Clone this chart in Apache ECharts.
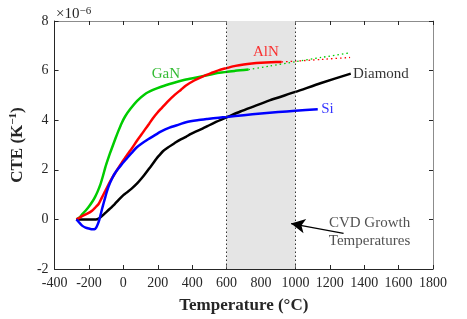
<!DOCTYPE html>
<html>
<head>
<meta charset="utf-8">
<script src="https://cdn.jsdelivr.net/npm/echarts@6/dist/echarts.min.js"></script>
<style>html,body{margin:0;padding:0;background:#fff}#c{width:467px;height:319px}</style>
</head>
<body>
<div id="c"></div>
<script>
// Temperatures (°C) and CTE values (×10^-6 K^-1)
const ganT   = [-273,-255,-240,-220,-200,-180,-165,-150,-135,-120,-105,-90,-75,-60,-45,-30,-10,10,40,80,125,172,220,290,364,460,556,650,728];
const ganC   = [0,0.08,0.2,0.35,0.52,0.72,0.9,1.12,1.38,1.72,2.1,2.42,2.72,3.0,3.28,3.55,3.88,4.15,4.45,4.78,5.05,5.22,5.35,5.5,5.64,5.77,5.91,5.99,6.04];
const ganExtT = [728,850,1000,1150,1318];
const ganExtC = [6.04,6.18,6.36,6.53,6.72];

const alnT   = [-273,-255,-240,-210,-182,-160,-144,-125,-105,-85,-67,-45,-29,-10,10,30,48,80,105,125,150,172,200,220,259,300,335,364,412,460,510,556,600,651,700,747,800,860,920];
const alnC   = [0,0.06,0.13,0.23,0.35,0.5,0.62,0.88,1.15,1.42,1.65,1.9,2.08,2.28,2.48,2.68,2.85,3.18,3.42,3.62,3.86,4.08,4.32,4.47,4.76,5.03,5.23,5.4,5.6,5.76,5.9,6.02,6.1,6.19,6.25,6.29,6.32,6.34,6.35];
const alnExtT = [920,1000,1150,1318];
const alnExtC = [6.35,6.38,6.45,6.53];

const siT    = [-273,-260,-240,-220,-200,-180,-168,-158,-148,-140,-132,-124,-115,-105,-96,-85,-67,-50,-29,-10,19,48,77,105,144,172,220,268,326,364,430,489,556,600,700,800,900,1000,1130];
const siC    = [0,-0.1,-0.25,-0.33,-0.37,-0.4,-0.4,-0.33,-0.18,-0.02,0.2,0.42,0.65,0.9,1.12,1.35,1.63,1.85,2.05,2.22,2.45,2.68,2.9,3.05,3.23,3.35,3.55,3.7,3.83,3.92,4.0,4.05,4.1,4.13,4.2,4.27,4.33,4.38,4.44];

const diaT   = [-273,-250,-220,-190,-160,-144,-130,-105,-80,-50,-29,0,19,48,80,105,125,150,172,192,211,230,259,297,326,364,393,460,489,530,603,680,747,850,1000,1150,1322];
const diaC   = [0,0,0,0,0,0.03,0.1,0.26,0.42,0.62,0.78,0.98,1.08,1.24,1.45,1.65,1.82,2.05,2.25,2.45,2.6,2.75,2.9,3.07,3.2,3.33,3.45,3.66,3.76,3.9,4.12,4.35,4.53,4.8,5.14,5.5,5.88];

const cvdRange = [600, 1000];
const xTicks = {min:-400, max:1800, step:200};
const yTicks = {min:-2, max:8, step:2};

const pairs = (t, c) => t.map((v, i) => [v, c[i]]);
const FONT = '"Liberation Serif", "DejaVu Serif", serif';
const DARK = '#262626';

const chart = echarts.init(document.getElementById('c'), null, {renderer:'canvas'});

function lineSeries(name, data, color, dotted) {
  return {
    name, type:'line', data, showSymbol:false, symbol:'none', smooth:0.25, z:3,
    lineStyle: dotted ? {color, width:1.3, type:[1.5,3]} : {color, width:2.5},
    silent:true, animation:false
  };
}

const plain = v => String(v);

const option = {
  animation:false,
  title: {
    text: '×10{sup|−6}', left: 51, top: 1,
    textStyle: {fontFamily:FONT, fontSize:15, fontWeight:'normal', color:DARK,
      rich:{sup:{fontFamily:FONT, fontSize:11, color:DARK, verticalAlign:'top', padding:[0,0,6,0]}}}
  },
  grid: {left:50, right:34, top:21, bottom:43},
  xAxis: [
    {type:'value', position:'bottom', min:xTicks.min, max:xTicks.max, interval:xTicks.step,
     axisLine:{show:true, onZero:false, lineStyle:{color:DARK, width:1}},
     axisTick:{show:true, inside:true, length:4, lineStyle:{color:DARK}},
     axisLabel:{fontFamily:FONT, fontSize:14, color:DARK, margin:7, formatter:plain},
     splitLine:{show:false},
     name:'Temperature (°C)', nameLocation:'middle', nameGap:28,
     nameTextStyle:{fontFamily:FONT, fontSize:17, fontWeight:'bold', color:DARK}},
    {type:'value', position:'top', min:xTicks.min, max:xTicks.max, interval:xTicks.step,
     axisLine:{show:true, onZero:false, lineStyle:{color:'#8c8c8c', width:1}},
     axisTick:{show:true, inside:true, length:4, lineStyle:{color:DARK}},
     axisLabel:{show:false}, splitLine:{show:false}}
  ],
  yAxis: [
    {type:'value', position:'left', min:yTicks.min, max:yTicks.max, interval:yTicks.step,
     axisLine:{show:true, onZero:false, lineStyle:{color:DARK, width:1}},
     axisTick:{show:true, inside:true, length:4, lineStyle:{color:DARK}},
     axisLabel:{fontFamily:FONT, fontSize:14, color:DARK, margin:6, formatter:plain},
     splitLine:{show:false},
     name:'CTE (K{sup|−1})', nameLocation:'middle', nameGap:25,
     nameTextStyle:{fontFamily:FONT, fontSize:17, fontWeight:'bold', color:DARK,
       rich:{sup:{fontFamily:FONT, fontSize:11, fontWeight:'bold', color:DARK, verticalAlign:'top', padding:[0,0,8,0]}}}},
    {type:'value', position:'right', min:yTicks.min, max:yTicks.max, interval:yTicks.step,
     axisLine:{show:true, onZero:false, lineStyle:{color:'#8c8c8c', width:1}},
     axisTick:{show:true, inside:true, length:4, lineStyle:{color:DARK}},
     axisLabel:{show:false}, splitLine:{show:false}}
  ],
  series: [
    {
      name:'region', type:'line', data:[], z:1, silent:true,
      markArea:{silent:true, itemStyle:{color:'#e5e5e5'},
        data:[[{xAxis:cvdRange[0]},{xAxis:cvdRange[1]}]]},
      markLine:{silent:true, symbol:['none','none'], label:{show:false},
        lineStyle:{color:'#333', width:1, type:[1.5,2.5]},
        data:[{xAxis:cvdRange[0]},{xAxis:cvdRange[1]}]}
    },
    lineSeries('GaN ext', pairs(ganExtT, ganExtC), '#00cc00', true),
    lineSeries('AlN ext', pairs(alnExtT, alnExtC), '#ff0000', true),
    lineSeries('GaN', pairs(ganT, ganC), '#00cc00', false),
    lineSeries('Diamond', pairs(diaT, diaC), '#000000', false),
    lineSeries('AlN', pairs(alnT, alnC), '#ff0000', false),
    lineSeries('Si', pairs(siT, siC), '#0000ff', false),
    {
      name:'arrow', type:'line', data:[], z:4, silent:true,
      markLine:{silent:true, symbol:['none','arrow'], symbolSize:[11,14], label:{show:false},
        lineStyle:{color:'#000', width:1.2, type:'solid'},
        data:[[{coord:[1280,-0.56]},{coord:[975,-0.17]}]]}
    },
    {
      name:'labels', type:'scatter', symbolSize:0, z:5, silent:true,
      label:{show:true, fontFamily:FONT, fontSize:15},
      data:[
        {value:[247,5.88], label:{formatter:'GaN', color:'#00aa00', position:'inside'}},
        {value:[828,6.75], label:{formatter:'AlN', color:'#ff0000', position:'inside'}},
        {value:[1150,4.44], label:{formatter:'Si', color:'#0000ff', position:'right', distance:0}},
        {value:[1335,5.86], label:{formatter:'Diamond', color:'#000', position:'right', distance:0}},
        {value:[1431,-0.5], label:{formatter:'CVD Growth\nTemperatures', color:DARK, position:'inside', lineHeight:18, align:'center'}}
      ]
    }
  ]
};
chart.setOption(option);
</script>
</body>
</html>
